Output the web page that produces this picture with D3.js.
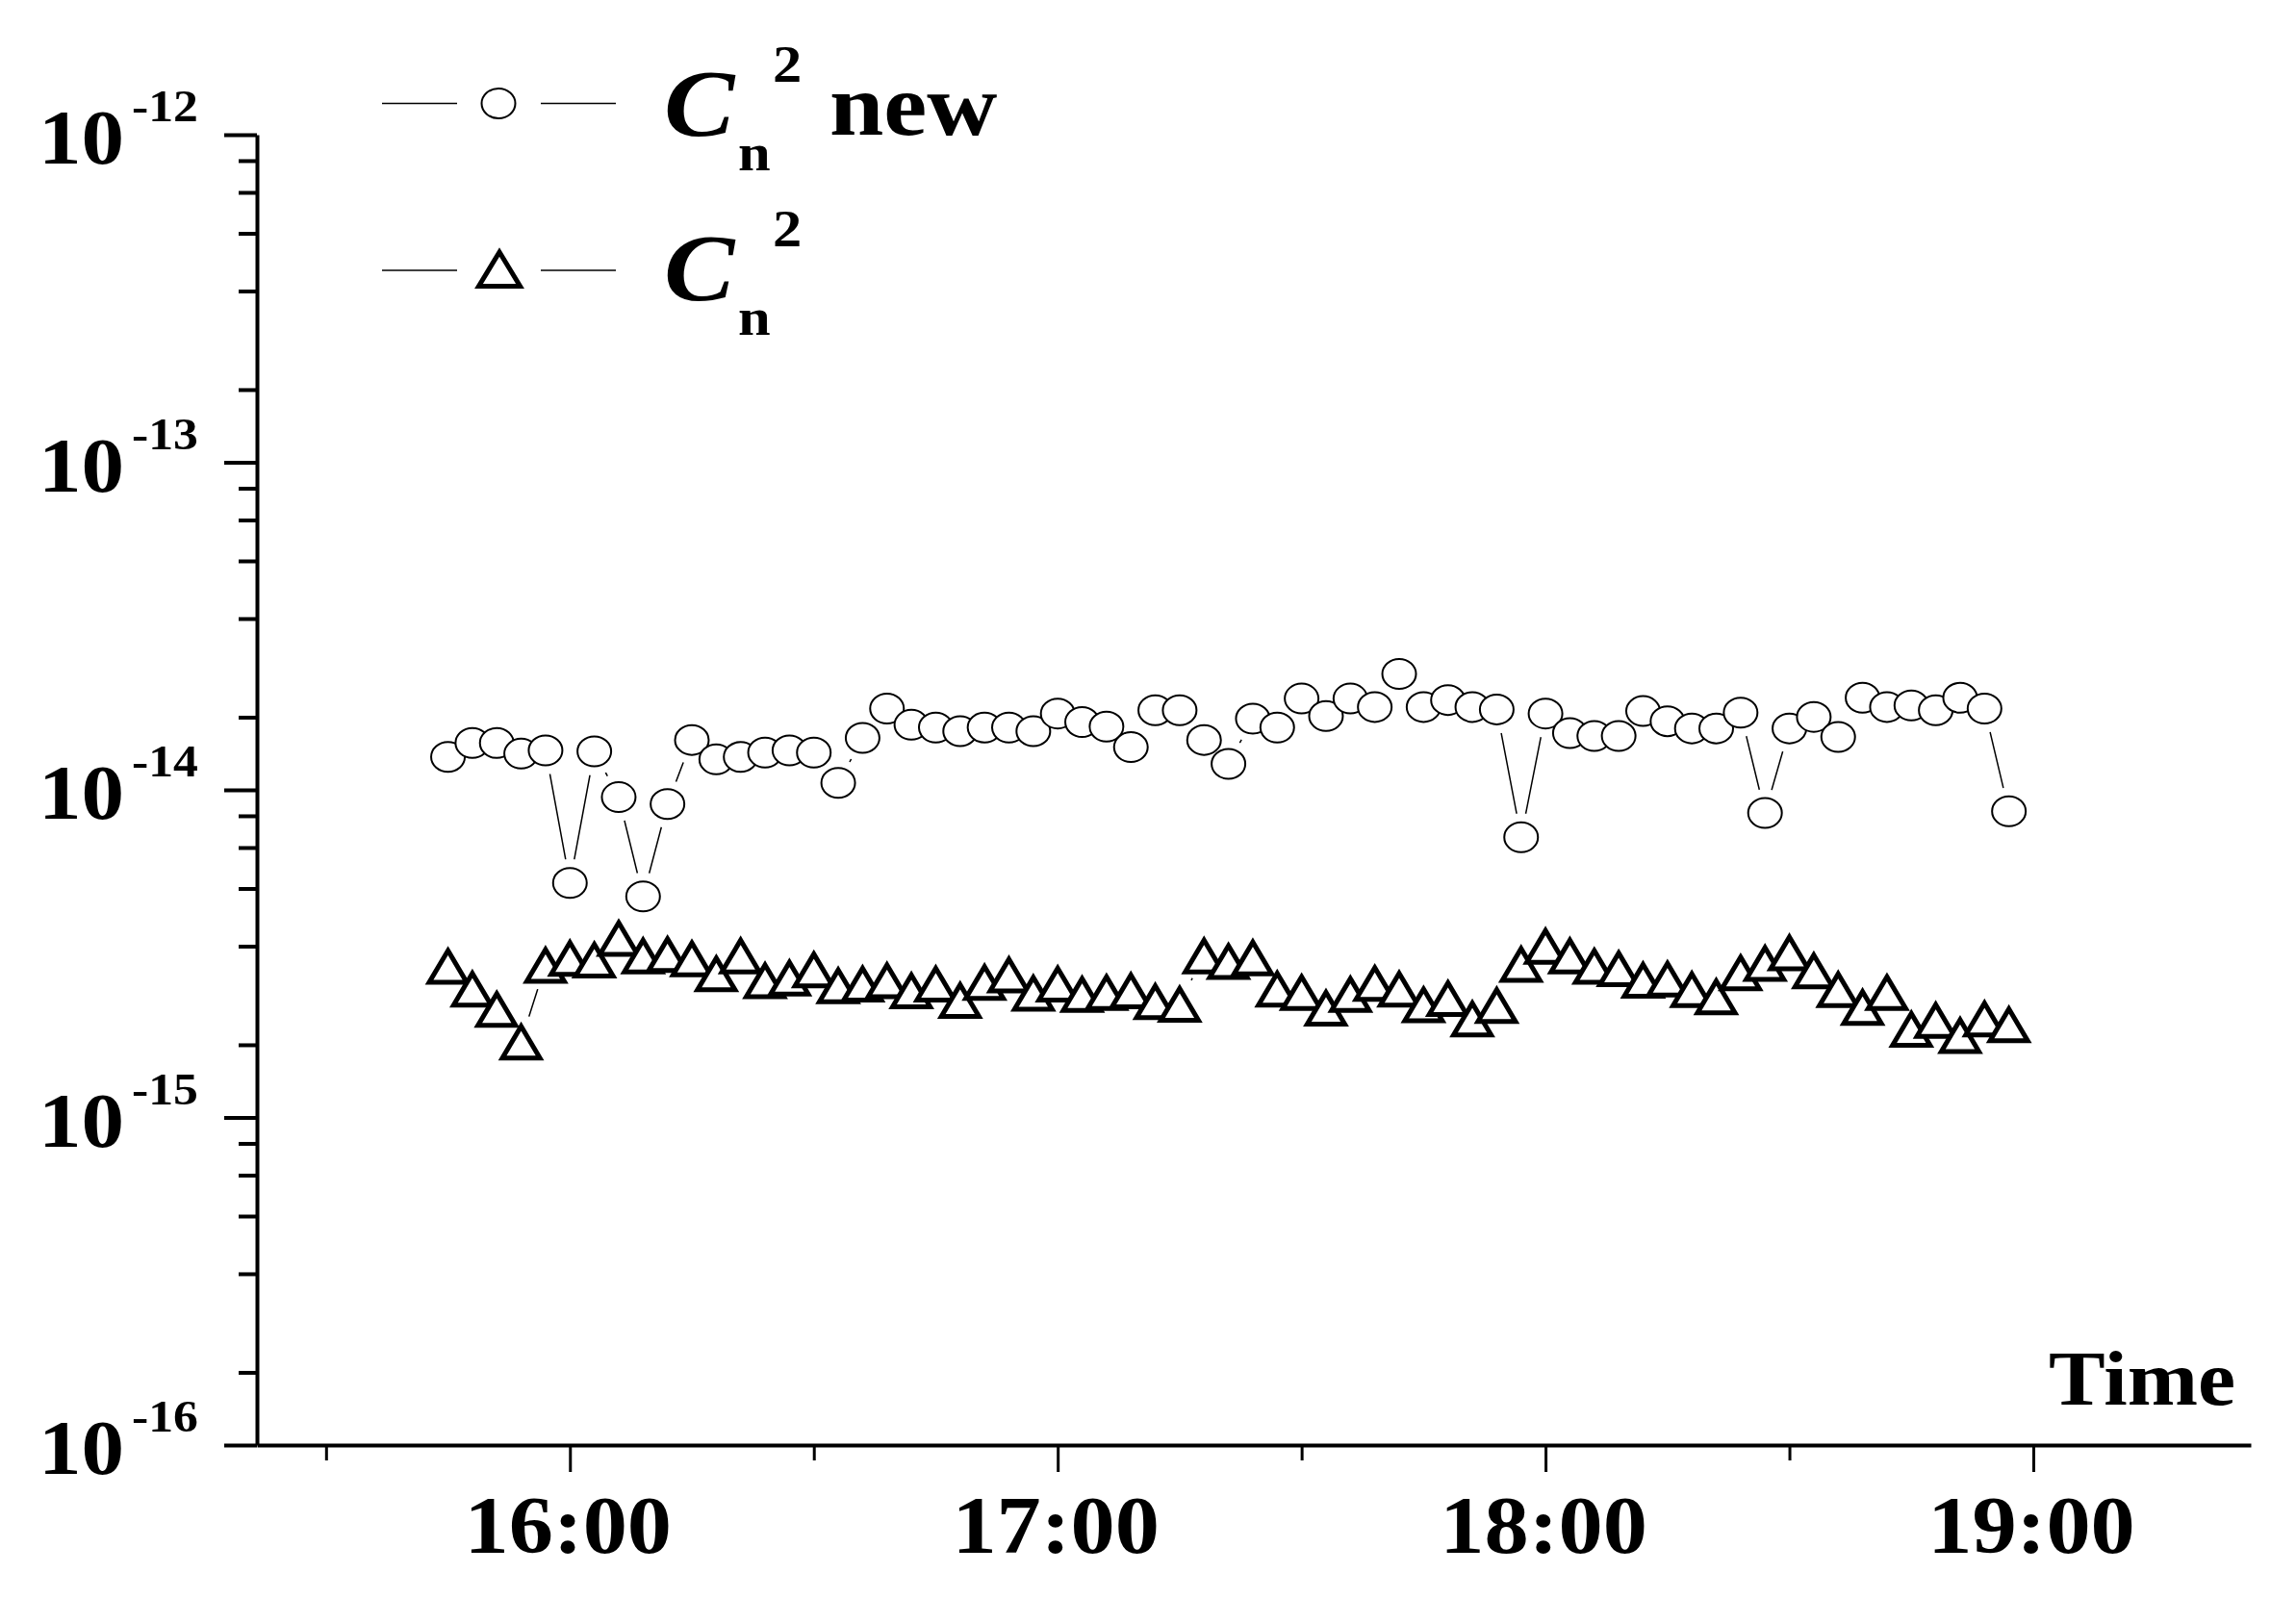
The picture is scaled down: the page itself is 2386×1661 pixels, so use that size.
<!DOCTYPE html>
<html><head><meta charset="utf-8">
<script src="https://cdn.jsdelivr.net/npm/d3@7"></script>
<style>html,body{margin:0;padding:0;background:#fff;} svg{display:block;}</style>
</head><body>
<svg id="chart" width="2386" height="1661"></svg>
<script>
// ---------- data ----------
const times = [
 "15:45","15:48","15:51","15:54","15:57",
 "16:00","16:03","16:06","16:09","16:12","16:15","16:18","16:21","16:24","16:27",
 "16:30","16:33","16:36","16:39","16:42","16:45","16:48","16:51","16:54","16:57",
 "17:00","17:03","17:06","17:09","17:12","17:15","17:18","17:21","17:24","17:27",
 "17:30","17:33","17:36","17:39","17:42","17:45","17:48","17:51","17:54","17:57",
 "18:00","18:03","18:06","18:09","18:12","18:15","18:18","18:21","18:24","18:27",
 "18:30","18:33","18:36","18:39","18:42","18:45","18:48","18:51","18:54","18:57"];
const cn2New = [
 1.26e-14,1.39e-14,1.39e-14,1.29e-14,1.32e-14,5.2e-15,1.31e-14,9.5e-15,4.73e-15,9.05e-15,
 1.42e-14,1.24e-14,1.26e-14,1.30e-14,1.32e-14,1.30e-14,1.05e-14,1.44e-14,1.77e-14,1.58e-14,
 1.55e-14,1.51e-14,1.55e-14,1.55e-14,1.51e-14,1.71e-14,1.61e-14,1.56e-14,1.35e-14,1.75e-14,
 1.75e-14,1.42e-14,1.20e-14,1.65e-14,1.55e-14,1.90e-14,1.68e-14,1.90e-14,1.79e-14,2.26e-14,
 1.79e-14,1.88e-14,1.79e-14,1.76e-14,7.17e-15,1.71e-14,1.49e-14,1.46e-14,1.46e-14,1.74e-14,
 1.62e-14,1.54e-14,1.54e-14,1.72e-14,8.5e-15,1.54e-14,1.67e-14,1.45e-14,1.91e-14,1.79e-14,
 1.81e-14,1.75e-14,1.91e-14,1.77e-14,8.6e-15];
const cn2 = [
 2.91e-15,2.48e-15,2.15e-15,1.71e-15,2.93e-15,3.08e-15,3.04e-15,3.54e-15,3.13e-15,3.16e-15,
 3.07e-15,2.76e-15,3.13e-15,2.63e-15,2.68e-15,2.84e-15,2.54e-15,2.57e-15,2.63e-15,2.45e-15,
 2.57e-15,2.29e-15,2.60e-15,2.74e-15,2.41e-15,2.57e-15,2.39e-15,2.42e-15,2.45e-15,2.27e-15,
 2.23e-15,3.13e-15,3.01e-15,3.09e-15,2.48e-15,2.42e-15,2.17e-15,2.39e-15,2.58e-15,2.48e-15,
 2.22e-15,2.32e-15,2.01e-15,2.21e-15,2.95e-15,3.35e-15,3.13e-15,2.91e-15,2.86e-15,2.64e-15,
 2.66e-15,2.47e-15,2.35e-15,2.78e-15,2.97e-15,3.20e-15,2.82e-15,2.47e-15,2.18e-15,2.42e-15,
 1.87e-15,1.99e-15,1.79e-15,2.01e-15,1.93e-15];
const yMajorValues = [1e-12, 1e-13, 1e-14, 1e-15, 1e-16];
const yTickExponents = ["-12", "-13", "-14", "-15", "-16"];
const xMajorLabels = ["16:00", "17:00", "18:00", "19:00"];
const xMinorLabels = ["15:30", "16:30", "17:30", "18:30"];
const xAxisTitle = "Time";
const legendSuffix = ["new", ""];

// ---------- setup ----------
const toMin = s => { const [h, m] = s.split(":").map(Number); return h * 60 + m; };
const svg = d3.select("#chart");
svg.append("rect").attr("width", 2386).attr("height", 1661).attr("fill", "#fff");
const FONT = "'Liberation Serif','Times New Roman',Times,serif";
const SX = 1.1;

const x = d3.scaleLinear().domain([921.5, 1166.75]).range([267, 2339]);
const y = d3.scaleLog().domain([1e-16, 1e-12]).range([1502, 140]);

// ---------- axes ----------
const yMinor = [];
for (let n = -16; n <= -13; n++) for (let k = 1; k <= 5; k++) yMinor.push(k / 6 * Math.pow(10, n + 1));

const gy = svg.append("g").attr("transform", "translate(267,0)")
  .call(d3.axisLeft(y).tickValues(yMajorValues).tickFormat("").tickSize(34).tickSizeOuter(0));
gy.select(".domain").attr("stroke", "#000").attr("stroke-width", 4);
gy.selectAll(".tick line").attr("stroke", "#000").attr("stroke-width", 4);
const gy2 = svg.append("g").attr("transform", "translate(267,0)")
  .call(d3.axisLeft(y).tickValues(yMinor).tickFormat("").tickSize(19).tickSizeOuter(0));
gy2.select(".domain").remove();
gy2.selectAll(".tick line").attr("stroke", "#000").attr("stroke-width", 4);

const gx = svg.append("g").attr("transform", "translate(0,1502)")
  .call(d3.axisBottom(x).tickValues(xMajorLabels.map(toMin)).tickFormat("").tickSize(28).tickSizeOuter(0));
gx.select(".domain").attr("stroke", "#000").attr("stroke-width", 4);
gx.selectAll(".tick line").attr("stroke", "#000").attr("stroke-width", 3);
const gx2 = svg.append("g").attr("transform", "translate(0,1502)")
  .call(d3.axisBottom(x).tickValues(xMinorLabels.map(toMin)).tickFormat("").tickSize(16).tickSizeOuter(0));
gx2.select(".domain").remove();
gx2.selectAll(".tick line").attr("stroke", "#000").attr("stroke-width", 3);

// y labels 10^n
yMajorValues.forEach((v, i) => {
  const yy = y(v);
  svg.append("text").attr("transform", `translate(40,${yy + 30}) scale(${SX},1)`)
    .attr("font-family", FONT).attr("font-weight", "bold").attr("font-size", 81).text("10");
  svg.append("text").attr("transform", `translate(137,${yy - 14}) scale(${SX},1)`)
    .attr("font-family", FONT).attr("font-weight", "bold").attr("font-size", 47).text(yTickExponents[i]);
});
// x labels
xMajorLabels.forEach(t => {
  svg.append("text").attr("transform", `translate(${x(toMin(t)) - 2},1614) scale(${SX},1)`)
    .attr("text-anchor", "middle").attr("font-family", FONT).attr("font-weight", "bold")
    .attr("font-size", 84).text(t);
});
svg.append("text").attr("transform", `translate(2323,1460) scale(${SX},1)`)
  .attr("text-anchor", "end").attr("font-family", FONT).attr("font-weight", "bold")
  .attr("font-size", 80).text(xAxisTitle);

// ---------- data ----------
const s1 = times.map((t, i) => ({ t: toMin(t), v: cn2New[i] }));
const s2 = times.map((t, i) => ({ t: toMin(t), v: cn2[i] }));
const line = d3.line().x(d => x(d.t)).y(d => y(d.v));
const tri = "M0,-15.5L19.5,17.5L-19.5,17.5Z";
const triLeg = "M0,-17L21.5,18.5L-21.5,18.5Z";

[s1, s2].forEach(s => {
  svg.append("path").datum(s).attr("d", line).attr("fill", "none")
    .attr("stroke", "#000").attr("stroke-width", 1.5);
});
// gaps around symbols
svg.append("g").selectAll("circle").data(s1).join("circle")
  .attr("cx", d => x(d.t)).attr("cy", d => y(d.v)).attr("r", 25).attr("fill", "#fff");
svg.append("g").selectAll("circle").data(s2).join("circle")
  .attr("cx", d => x(d.t)).attr("cy", d => y(d.v)).attr("r", 27).attr("fill", "#fff");
// symbols
svg.append("g").selectAll("ellipse").data(s1).join("ellipse")
  .attr("cx", d => x(d.t)).attr("cy", d => y(d.v)).attr("rx", 17.5).attr("ry", 15.5)
  .attr("fill", "#fff").attr("stroke", "#000").attr("stroke-width", 2);
svg.append("g").selectAll("path").data(s2).join("path")
  .attr("transform", d => `translate(${x(d.t)},${y(d.v)})`).attr("d", tri)
  .attr("fill", "#fff").attr("stroke", "#000").attr("stroke-width", 5)
  .attr("stroke-linejoin", "miter");

// ---------- legend ----------
const legRows = [107.5, 281];
const legBase = [141, 312];
legRows.forEach((ly, i) => {
  svg.append("line").attr("x1", 397).attr("x2", 475).attr("y1", ly).attr("y2", ly)
    .attr("stroke", "#000").attr("stroke-width", 1.5);
  svg.append("line").attr("x1", 562).attr("x2", 640).attr("y1", ly).attr("y2", ly)
    .attr("stroke", "#000").attr("stroke-width", 1.5);
  if (i === 0) {
    svg.append("ellipse").attr("cx", 518).attr("cy", ly).attr("rx", 17.5).attr("ry", 15.5)
      .attr("fill", "#fff").attr("stroke", "#000").attr("stroke-width", 2);
  } else {
    svg.append("path").attr("transform", `translate(519,${ly - 2})`).attr("d", triLeg)
      .attr("fill", "#fff").attr("stroke", "#000").attr("stroke-width", 5);
  }
  const b = legBase[i];
  svg.append("text").attr("transform", `translate(690,${b}) scale(${SX},1)`)
    .attr("font-family", FONT).attr("font-weight", "bold").attr("font-style", "italic")
    .attr("font-size", 100).text("C");
  svg.append("text").attr("transform", `translate(767,${b + 36}) scale(${SX},1)`)
    .attr("font-family", FONT).attr("font-weight", "bold").attr("font-size", 55).text("n");
  svg.append("text").attr("transform", `translate(803,${b - 56}) scale(${SX},1)`)
    .attr("font-family", FONT).attr("font-weight", "bold").attr("font-size", 55).text("2");
  if (legendSuffix[i]) {
    svg.append("text").attr("transform", `translate(862,${b - 1}) scale(${SX},1)`)
      .attr("font-family", FONT).attr("font-weight", "bold").attr("font-size", 92).text(legendSuffix[i]);
  }
});
</script>
</body></html>
